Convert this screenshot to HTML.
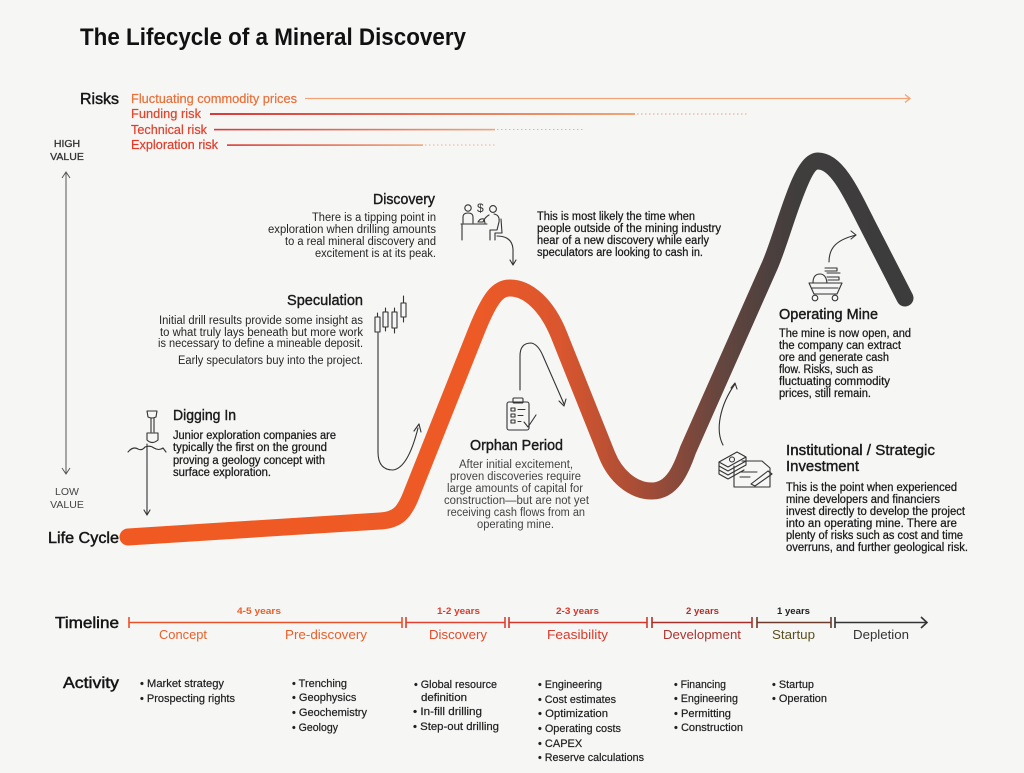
<!DOCTYPE html>
<html>
<head>
<meta charset="utf-8">
<style>
html,body{margin:0;padding:0;background:#F6F6F5;}
svg{display:block;}
text{font-family:"Liberation Sans",sans-serif;}
.b11{font-size:11.5px;fill:#1a1a1a;stroke:#1a1a1a;stroke-width:0.25;}
.r11{font-size:11.5px;fill:#262626;}
.g11{font-size:11.5px;fill:#444;}
.h14{font-size:14.5px;fill:#1a1a1a;stroke:#1a1a1a;stroke-width:0.4;}
.lbl{font-size:15.5px;fill:#151515;stroke:#151515;stroke-width:0.45;}
.act{font-size:11px;fill:#1e1e1e;stroke:#1e1e1e;stroke-width:0.2;}
.yr{font-size:9.5px;font-weight:bold;}
.ph{font-size:13px;}
.ic{fill:none;stroke:#333;stroke-width:1.1;stroke-linecap:round;stroke-linejoin:round;}
</style>
</head>
<body>
<svg width="1024" height="773" viewBox="0 0 1024 773" xmlns="http://www.w3.org/2000/svg">
<defs>
  <linearGradient id="curveG" gradientUnits="userSpaceOnUse" x1="128" y1="0" x2="905" y2="0">
    <stop offset="0" stop-color="#F05A22"/>
    <stop offset="0.44" stop-color="#EE5A26"/>
    <stop offset="0.556" stop-color="#DA562E"/>
    <stop offset="0.671" stop-color="#A04C37"/>
    <stop offset="0.76" stop-color="#66463F"/>
    <stop offset="0.86" stop-color="#403D3D"/>
    <stop offset="1" stop-color="#3C3C3C"/>
  </linearGradient>
  <linearGradient id="riskG" gradientUnits="objectBoundingBox" x1="0" y1="0" x2="1" y2="0">
    <stop offset="0" stop-color="#D83A3A"/>
    <stop offset="1" stop-color="#F0A676"/>
  </linearGradient>
</defs>

<rect width="1024" height="773" fill="#F6F6F5"/>

<!-- Title -->
<text x="80" y="45" font-size="24" font-weight="bold" fill="#111" textLength="386" lengthAdjust="spacingAndGlyphs">The Lifecycle of a Mineral Discovery</text>

<!-- Risks -->
<text x="80" y="104" class="lbl" textLength="39" lengthAdjust="spacingAndGlyphs">Risks</text>
<text x="131" y="103" font-size="12.5" fill="#E8703A" stroke="#E8703A" stroke-width="0.2" textLength="166" lengthAdjust="spacingAndGlyphs">Fluctuating commodity prices</text>
<text x="131" y="118" font-size="12.5" fill="#E2452A" stroke="#E2452A" stroke-width="0.2" textLength="70" lengthAdjust="spacingAndGlyphs">Funding risk</text>
<text x="131" y="134" font-size="12.5" fill="#E23E2A" stroke="#E23E2A" stroke-width="0.2" textLength="76" lengthAdjust="spacingAndGlyphs">Technical risk</text>
<text x="131" y="149" font-size="12.5" fill="#E23A28" stroke="#E23A28" stroke-width="0.2" textLength="87" lengthAdjust="spacingAndGlyphs">Exploration risk</text>

<line x1="305" y1="98.5" x2="910" y2="98.5" stroke="#F2A274" stroke-width="1.3"/>
<path d="M905,94.5 L910,98.5 L905,102.5" fill="none" stroke="#F2A274" stroke-width="1.3"/>
<rect x="210" y="113" width="425" height="2" fill="url(#riskG)"/>
<line x1="637" y1="114" x2="748" y2="114" stroke="#F0B090" stroke-width="1.2" stroke-dasharray="1.5 2.5"/>
<rect x="214" y="128.8" width="281" height="1.6" fill="url(#riskG)"/>
<line x1="497" y1="129.5" x2="584" y2="129.5" stroke="#F0B090" stroke-width="1.1" stroke-dasharray="1.5 2.5"/>
<rect x="227" y="144.3" width="196" height="1.6" fill="url(#riskG)"/>
<line x1="425" y1="145" x2="497" y2="145" stroke="#F0B090" stroke-width="1.1" stroke-dasharray="1.5 2.5"/>

<!-- Value axis -->
<text x="67" y="147" font-size="10.5" fill="#333" stroke="#333" stroke-width="0.3" text-anchor="middle">HIGH</text>
<text x="67" y="160" font-size="10.5" fill="#333" stroke="#333" stroke-width="0.3" text-anchor="middle">VALUE</text>
<line x1="66" y1="172" x2="66" y2="474" stroke="#555" stroke-width="1"/>
<path d="M62,178 L66,172 L70,178 M62,468 L66,474 L70,468" fill="none" stroke="#555" stroke-width="1"/>
<text x="67" y="495" font-size="10.5" fill="#444" text-anchor="middle">LOW</text>
<text x="67" y="508" font-size="10.5" fill="#444" text-anchor="middle">VALUE</text>

<!-- Life Cycle label -->
<text x="48" y="543" class="lbl" font-size="16" textLength="71" lengthAdjust="spacingAndGlyphs">Life Cycle</text>

<!-- Main curve -->
<path d="M128,537 L380,521 C398,520 404,512 410,498 L476,332 C490,297 498,288 510,288 C528,288 547,305 559,335 L607,455 C615,475 632,491 652,491 C672,491 681,470 688,450 L770,265 C785,230 800,161 818,161 C836,161 850,190 866,222 L905,298"
 fill="none" stroke="url(#curveG)" stroke-width="17" stroke-linecap="round" stroke-linejoin="round"/>

<!-- Digging In -->
<g class="ic">
  <path d="M147,411 L157,411 L156,417 Q152,419 148,417 Z"/>
  <path d="M151,418 L151,432 M154,418 L154,432"/>
  <path d="M147,433 L158,433 L158,440 Q152,445 147,440 Z"/>
  <path d="M128,452 Q133,446 138,449 Q142,451 145,447 Q150,445 154,448 Q159,451 163,448 L166,452"/>
  <line x1="147" y1="444" x2="147" y2="515"/>
  <path d="M144,510 L147,515 L150,510"/>
</g>
<text x="173" y="420" class="h14" textLength="63" lengthAdjust="spacingAndGlyphs">Digging In</text>
<text x="173" y="439" class="b11" textLength="163" lengthAdjust="spacingAndGlyphs">Junior exploration companies are</text>
<text x="173" y="451" class="b11" textLength="154" lengthAdjust="spacingAndGlyphs">typically the first on the ground</text>
<text x="173" y="464" class="b11" textLength="152" lengthAdjust="spacingAndGlyphs">proving a geology concept with</text>
<text x="173" y="476" class="b11" textLength="98" lengthAdjust="spacingAndGlyphs">surface exploration.</text>

<!-- Speculation -->
<text x="287" y="305" class="h14" textLength="76" lengthAdjust="spacingAndGlyphs">Speculation</text>
<text x="159" y="324" class="r11" textLength="204" lengthAdjust="spacingAndGlyphs">Initial drill results provide some insight as</text>
<text x="160" y="336" class="r11" textLength="203" lengthAdjust="spacingAndGlyphs">to what truly lays beneath but more work</text>
<text x="158" y="347" class="r11" textLength="205" lengthAdjust="spacingAndGlyphs">is necessary to define a mineable deposit.</text>
<text x="178" y="364" class="r11" textLength="185" lengthAdjust="spacingAndGlyphs">Early speculators buy into the project.</text>
<g class="ic">
  <rect x="375" y="317" width="5" height="15"/>
  <line x1="377.5" y1="313" x2="377.5" y2="317"/>
  <rect x="383" y="312" width="5" height="15"/>
  <line x1="385.5" y1="308" x2="385.5" y2="312"/><line x1="385.5" y1="327" x2="385.5" y2="331"/>
  <rect x="392" y="312" width="5" height="16"/>
  <line x1="394.5" y1="308" x2="394.5" y2="312"/><line x1="394.5" y1="328" x2="394.5" y2="333"/>
  <rect x="401" y="303" width="5" height="14"/>
  <line x1="403.5" y1="296" x2="403.5" y2="303"/><line x1="403.5" y1="317" x2="403.5" y2="322"/>
  <path d="M378,333 L378,452 Q378,470 393,470 Q408,468 418,428"/>
  <path d="M414,431 L419,424 L421,432"/>
</g>

<!-- Discovery -->
<text x="373" y="204" class="h14" textLength="62" lengthAdjust="spacingAndGlyphs">Discovery</text>
<text x="312" y="221" class="r11" textLength="124" lengthAdjust="spacingAndGlyphs">There is a tipping point in</text>
<text x="268" y="233" class="r11" textLength="168" lengthAdjust="spacingAndGlyphs">exploration when drilling amounts</text>
<text x="285" y="245" class="r11" textLength="151" lengthAdjust="spacingAndGlyphs">to a real mineral discovery and</text>
<text x="315" y="257" class="r11" textLength="121" lengthAdjust="spacingAndGlyphs">excitement is at its peak.</text>
<g class="ic">
  <circle cx="468" cy="208" r="3.2"/>
  <path d="M463,223 L463,217 Q463,213 468,213 Q473,213 473,217 L473,223"/>
  <circle cx="493" cy="209" r="3.4"/>
  <path d="M489,215 Q485,217 483,222 L479,222"/>
  <path d="M494,214 Q500,215 499,222 L497,230 L490,230 L490,240"/>
  <path d="M501,219 L502,233 L495,233 L495,240"/>
  <path d="M478,222 Q480,218 484,219 L485,223"/>
  <path d="M461,224 L487,224 M462,224 L462,240"/>
  <path d="M497,236 Q512,236 513,249 L513,264"/>
  <path d="M510,260 L513,265 L516,260"/>
</g>
<text x="477" y="212" font-size="12" fill="#333">$</text>

<text x="537" y="220" class="b11" textLength="158" lengthAdjust="spacingAndGlyphs">This is most likely the time when</text>
<text x="537" y="232" class="b11" textLength="184" lengthAdjust="spacingAndGlyphs">people outside of the mining industry</text>
<text x="537" y="244" class="b11" textLength="172" lengthAdjust="spacingAndGlyphs">hear of a new discovery while early</text>
<text x="537" y="256" class="b11" textLength="166" lengthAdjust="spacingAndGlyphs">speculators are looking to cash in.</text>

<!-- Orphan Period -->
<g class="ic">
  <rect x="507" y="402" width="22" height="28" rx="2"/>
  <rect x="513" y="398" width="10" height="5" rx="1"/>
  <rect x="511" y="408" width="4" height="3"/><line x1="518" y1="409.5" x2="525" y2="409.5"/>
  <rect x="511" y="414" width="4" height="3"/><line x1="518" y1="415.5" x2="523" y2="415.5"/>
  <rect x="511" y="420" width="4" height="3"/><line x1="518" y1="421.5" x2="521" y2="421.5"/>
  <path d="M524,422 L528,427 L536,415"/>
  <path d="M520,390 L520,356 Q520,343 531,343 Q538,344 543,356 L564,404"/>
  <path d="M559,401 L564,406 L566,399"/>
</g>
<text x="470" y="450" class="h14" textLength="93" lengthAdjust="spacingAndGlyphs">Orphan Period</text>
<text x="459" y="468" class="g11" textLength="114" lengthAdjust="spacingAndGlyphs">After initial excitement,</text>
<text x="450" y="480" class="g11" textLength="131" lengthAdjust="spacingAndGlyphs">proven discoveries require</text>
<text x="447" y="492" class="g11" textLength="136" lengthAdjust="spacingAndGlyphs">large amounts of capital for</text>
<text x="444" y="504" class="g11" textLength="145" lengthAdjust="spacingAndGlyphs">construction—but are not yet</text>
<text x="447" y="516" class="g11" textLength="138" lengthAdjust="spacingAndGlyphs">receiving cash flows from an</text>
<text x="477" y="528" class="g11" textLength="77" lengthAdjust="spacingAndGlyphs">operating mine.</text>

<!-- Operating Mine -->
<g class="ic">
  <path d="M809,283 L842,283 L837,294 L814,294 Z"/>
  <line x1="812" y1="288" x2="838" y2="288"/>
  <circle cx="815" cy="298" r="2.8"/>
  <circle cx="835" cy="298" r="2.8"/>
  <path d="M813,283 Q813,274 820,274 Q826,274 827,283"/>
  <path d="M825,268 L837,268 L837,271 L825,271 M827,273 L840,273 M827,277 L839,277 L839,280 L828,280"/>
  <path d="M829,262 C829,248 836,240 856,235"/>
  <path d="M851,231 L856,235 L851,239"/>
</g>
<text x="779" y="319" class="h14" textLength="99" lengthAdjust="spacingAndGlyphs">Operating Mine</text>
<text x="779" y="337" class="b11" textLength="132" lengthAdjust="spacingAndGlyphs">The mine is now open, and</text>
<text x="779" y="349" class="b11" textLength="122" lengthAdjust="spacingAndGlyphs">the company can extract</text>
<text x="779" y="361" class="b11" textLength="110" lengthAdjust="spacingAndGlyphs">ore and generate cash</text>
<text x="779" y="373" class="b11" textLength="94" lengthAdjust="spacingAndGlyphs">flow. Risks, such as</text>
<text x="779" y="385" class="b11" textLength="111" lengthAdjust="spacingAndGlyphs">fluctuating commodity</text>
<text x="779" y="397" class="b11" textLength="92" lengthAdjust="spacingAndGlyphs">prices, still remain.</text>

<!-- Institutional -->
<g class="ic">
  <path d="M719,462 L737,452 L746,457 L728,467 Z"/>
  <path d="M719,466 L728,471 L746,461 M719,470 L728,475 L746,465 M719,474 L728,479 L744,470"/>
  <path d="M719,462 L719,474 M746,457 L746,465"/>
  <circle cx="732" cy="459.5" r="2.5"/>
  <path d="M734,466 L734,487 L770,487 L770,468 L762,461 L742,461"/>
  <line x1="740" y1="472" x2="757" y2="472"/>
  <line x1="740" y1="477" x2="750" y2="477"/>
  <path d="M751,484 L768,471 L772,474 L755,486 Z"/>
  <path d="M723,445 C715,430 720,405 735,384"/>
  <path d="M731,388 L735,383 L737,389"/>
</g>
<text x="786" y="455" class="h14" textLength="149" lengthAdjust="spacingAndGlyphs">Institutional / Strategic</text>
<text x="786" y="471" class="h14" textLength="73" lengthAdjust="spacingAndGlyphs">Investment</text>
<text x="786" y="491" class="b11" textLength="171" lengthAdjust="spacingAndGlyphs">This is the point when experienced</text>
<text x="786" y="503" class="b11" textLength="154" lengthAdjust="spacingAndGlyphs">mine developers and financiers</text>
<text x="786" y="515" class="b11" textLength="179" lengthAdjust="spacingAndGlyphs">invest directly to develop the project</text>
<text x="786" y="527" class="b11" textLength="171" lengthAdjust="spacingAndGlyphs">into an operating mine. There are</text>
<text x="786" y="539" class="b11" textLength="177" lengthAdjust="spacingAndGlyphs">plenty of risks such as cost and time</text>
<text x="786" y="551" class="b11" textLength="182" lengthAdjust="spacingAndGlyphs">overruns, and further geological risk.</text>

<!-- Timeline -->
<text x="55" y="628" class="lbl" textLength="64" lengthAdjust="spacingAndGlyphs">Timeline</text>
<g stroke-width="1.6">
  <line x1="129" y1="622.5" x2="402" y2="622.5" stroke="#E8502A"/>
  <line x1="129" y1="617" x2="129" y2="628" stroke="#E8502A"/>
  <line x1="402" y1="617" x2="402" y2="628" stroke="#E8502A"/>
  <line x1="406" y1="622.5" x2="505" y2="622.5" stroke="#E04030"/>
  <line x1="406" y1="617" x2="406" y2="628" stroke="#E04030"/>
  <line x1="505" y1="617" x2="505" y2="628" stroke="#E04030"/>
  <line x1="509" y1="622.5" x2="647" y2="622.5" stroke="#D8352A"/>
  <line x1="509" y1="617" x2="509" y2="628" stroke="#D8352A"/>
  <line x1="647" y1="617" x2="647" y2="628" stroke="#D8352A"/>
  <line x1="652" y1="622.5" x2="752" y2="622.5" stroke="#A8302A"/>
  <line x1="652" y1="617" x2="652" y2="628" stroke="#A8302A"/>
  <line x1="752" y1="617" x2="752" y2="628" stroke="#A8302A"/>
  <line x1="757" y1="622.5" x2="831" y2="622.5" stroke="#6B3A2A"/>
  <line x1="757" y1="617" x2="757" y2="628" stroke="#6B3A2A"/>
  <line x1="831" y1="617" x2="831" y2="628" stroke="#6B3A2A"/>
  <line x1="835" y1="622.5" x2="927" y2="622.5" stroke="#333"/>
  <line x1="835" y1="617" x2="835" y2="628" stroke="#333"/>
  <path d="M921,617 L927,622.5 L921,628" fill="none" stroke="#333"/>
</g>
<text x="237" y="614" class="yr" fill="#E8602A" textLength="44" lengthAdjust="spacingAndGlyphs">4-5 years</text>
<text x="437" y="614" class="yr" fill="#E03A2A" textLength="43" lengthAdjust="spacingAndGlyphs">1-2 years</text>
<text x="556" y="614" class="yr" fill="#D8352A" textLength="43" lengthAdjust="spacingAndGlyphs">2-3 years</text>
<text x="686" y="614" class="yr" fill="#B0302A" textLength="33" lengthAdjust="spacingAndGlyphs">2 years</text>
<text x="777" y="614" class="yr" fill="#222" textLength="33" lengthAdjust="spacingAndGlyphs">1 years</text>

<text x="159" y="639" class="ph" fill="#E8602A" textLength="48" lengthAdjust="spacingAndGlyphs">Concept</text>
<text x="285" y="639" class="ph" fill="#E8602A" textLength="82" lengthAdjust="spacingAndGlyphs">Pre-discovery</text>
<text x="429" y="639" class="ph" fill="#E04A2A" textLength="58" lengthAdjust="spacingAndGlyphs">Discovery</text>
<text x="547" y="639" class="ph" fill="#D83A2A" textLength="61" lengthAdjust="spacingAndGlyphs">Feasibility</text>
<text x="663" y="639" class="ph" fill="#A83530" textLength="78" lengthAdjust="spacingAndGlyphs">Development</text>
<text x="772" y="639" class="ph" fill="#5A5020" textLength="43" lengthAdjust="spacingAndGlyphs">Startup</text>
<text x="853" y="639" class="ph" fill="#333" textLength="56" lengthAdjust="spacingAndGlyphs">Depletion</text>

<!-- Activity -->
<text x="63" y="688" class="lbl" textLength="56" lengthAdjust="spacingAndGlyphs">Activity</text>

<text x="140" y="687" class="act" textLength="84" lengthAdjust="spacingAndGlyphs">• Market strategy</text>
<text x="140" y="702" class="act" textLength="95" lengthAdjust="spacingAndGlyphs">• Prospecting rights</text>

<text x="292" y="687" class="act" textLength="55" lengthAdjust="spacingAndGlyphs">• Trenching</text>
<text x="292" y="701" class="act">• Geophysics</text>
<text x="292" y="716" class="act" textLength="75" lengthAdjust="spacingAndGlyphs">• Geochemistry</text>
<text x="292" y="731" class="act" textLength="46" lengthAdjust="spacingAndGlyphs">• Geology</text>

<text x="414" y="688" class="act" textLength="83" lengthAdjust="spacingAndGlyphs">• Global resource</text>
<text x="421" y="701" class="act" textLength="46" lengthAdjust="spacingAndGlyphs">definition</text>
<text x="413" y="715" class="act" textLength="69" lengthAdjust="spacingAndGlyphs">• In-fill drilling</text>
<text x="413" y="730" class="act" textLength="86" lengthAdjust="spacingAndGlyphs">• Step-out drilling</text>

<text x="538" y="688" class="act" textLength="64" lengthAdjust="spacingAndGlyphs">• Engineering</text>
<text x="538" y="703" class="act" textLength="78" lengthAdjust="spacingAndGlyphs">• Cost estimates</text>
<text x="538" y="717" class="act" textLength="70" lengthAdjust="spacingAndGlyphs">• Optimization</text>
<text x="538" y="732" class="act" textLength="83" lengthAdjust="spacingAndGlyphs">• Operating costs</text>
<text x="538" y="747" class="act">• CAPEX</text>
<text x="538" y="761" class="act" textLength="106" lengthAdjust="spacingAndGlyphs">• Reserve calculations</text>

<text x="674" y="688" class="act" textLength="52" lengthAdjust="spacingAndGlyphs">• Financing</text>
<text x="674" y="702" class="act" textLength="64" lengthAdjust="spacingAndGlyphs">• Engineering</text>
<text x="674" y="717" class="act" textLength="57" lengthAdjust="spacingAndGlyphs">• Permitting</text>
<text x="674" y="731" class="act" textLength="69" lengthAdjust="spacingAndGlyphs">• Construction</text>

<text x="772" y="688" class="act" textLength="42" lengthAdjust="spacingAndGlyphs">• Startup</text>
<text x="772" y="702" class="act" textLength="55" lengthAdjust="spacingAndGlyphs">• Operation</text>
</svg>
</body>
</html>
